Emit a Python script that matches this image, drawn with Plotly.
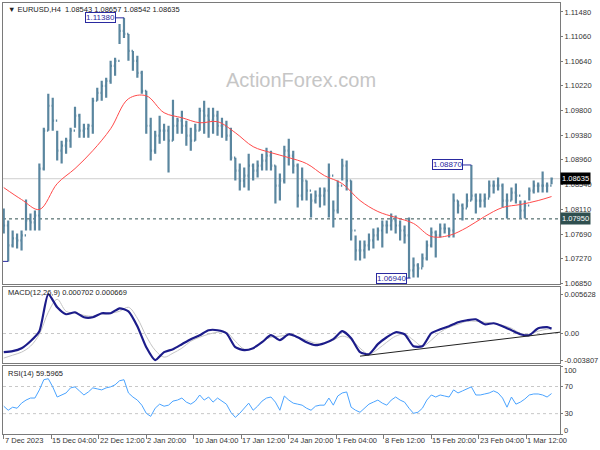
import plotly.graph_objects as go

# ---------------- data ----------------
H4_PER_BAR = 3  # each plotted bar covers 3 H4 bars

highs = [1.08127, 1.07923, 1.07752, 1.07701, 1.07752, 1.08280, 1.08042, 1.08093, 1.08893, 1.09505,
         1.10084, 1.10016, 1.09454, 1.09284, 1.09335, 1.09505, 1.09863, 1.09744, 1.09574, 1.09574,
         1.10016, 1.10186, 1.10305, 1.10356, 1.10646, 1.10697, 1.11276, 1.11380, 1.11105, 1.10816,
         1.10731, 1.10476, 1.10135, 1.09676, 1.09454, 1.09710, 1.09574, 1.09539, 1.09982, 1.09676,
         1.09795, 1.09625, 1.09505, 1.09574, 1.09846, 1.09965, 1.09846, 1.09846, 1.09795, 1.09676,
         1.09625, 1.09505, 1.08995, 1.08893, 1.08825, 1.09063, 1.08893, 1.08944, 1.09063, 1.09165,
         1.09114, 1.08859, 1.08723, 1.09199, 1.09318, 1.09114, 1.08893, 1.08825, 1.08603, 1.08382,
         1.08433, 1.08484, 1.08484, 1.08893, 1.08263, 1.08603, 1.08978, 1.08944, 1.08603, 1.07667,
         1.07582, 1.07582, 1.07701, 1.07786, 1.07803, 1.07923, 1.07923, 1.08042, 1.08008, 1.07923,
         1.07837, 1.07974, 1.07293, 1.07191, 1.07361, 1.07582, 1.07803, 1.07752, 1.07872, 1.07872,
         1.07803, 1.08382, 1.08263, 1.08212, 1.08382, 1.08870, 1.08382, 1.08382, 1.08382, 1.08603,
         1.08603, 1.08654, 1.08552, 1.08382, 1.08484, 1.08552, 1.08263, 1.08263, 1.08484, 1.08603,
         1.08569, 1.08757, 1.08569, 1.08657]
lows = [1.07701, 1.07225, 1.07463, 1.07446, 1.07412, 1.07752, 1.07752, 1.07752, 1.07752, 1.08774,
        1.09454, 1.09454, 1.08944, 1.08893, 1.09063, 1.09165, 1.09505, 1.09335, 1.09335, 1.09335,
        1.09403, 1.09965, 1.09965, 1.10016, 1.10254, 1.10390, 1.10935, 1.11037, 1.10646, 1.10476,
        1.10356, 1.10084, 1.09403, 1.08944, 1.09063, 1.09233, 1.09284, 1.08740, 1.09284, 1.09403,
        1.09403, 1.09199, 1.09114, 1.09284, 1.09454, 1.09403, 1.09335, 1.09403, 1.09369, 1.09335,
        1.09284, 1.08944, 1.08603, 1.08433, 1.08484, 1.08433, 1.08603, 1.08654, 1.08774, 1.08774,
        1.08774, 1.08212, 1.08263, 1.08552, 1.08859, 1.08723, 1.08144, 1.08263, 1.08263, 1.07974,
        1.08212, 1.08144, 1.08178, 1.07974, 1.07803, 1.08042, 1.08603, 1.08433, 1.07582, 1.07242,
        1.07242, 1.07276, 1.07412, 1.07446, 1.07582, 1.07463, 1.07701, 1.07752, 1.07701, 1.07582,
        1.07531, 1.06940, 1.06952, 1.06952, 1.07123, 1.07242, 1.07463, 1.07293, 1.07633, 1.07701,
        1.07633, 1.07633, 1.08042, 1.07923, 1.08144, 1.08263, 1.08042, 1.08144, 1.08144, 1.08314,
        1.08382, 1.08433, 1.08144, 1.07957, 1.08263, 1.08212, 1.07957, 1.07957, 1.08263, 1.08382,
        1.08399, 1.08399, 1.08399, 1.08542]
closes = [1.07837, 1.07497, 1.07616, 1.07582, 1.07667, 1.07923, 1.07889, 1.08008, 1.08808, 1.09454,
          1.09880, 1.09625, 1.09114, 1.09199, 1.09284, 1.09454, 1.09710, 1.09454, 1.09488, 1.09539,
          1.09965, 1.10101, 1.10220, 1.10305, 1.10561, 1.10646, 1.11156, 1.11105, 1.10816, 1.10646,
          1.10442, 1.10135, 1.09539, 1.09114, 1.09369, 1.09454, 1.09454, 1.09284, 1.09539, 1.09625,
          1.09539, 1.09369, 1.09284, 1.09454, 1.09795, 1.09710, 1.09625, 1.09710, 1.09539, 1.09539,
          1.09369, 1.08995, 1.08774, 1.08603, 1.08688, 1.08859, 1.08774, 1.08859, 1.08944, 1.09029,
          1.08859, 1.08518, 1.08603, 1.09114, 1.09029, 1.08859, 1.08348, 1.08603, 1.08433, 1.08263,
          1.08348, 1.08348, 1.08433, 1.08688, 1.08093, 1.08518, 1.08859, 1.08603, 1.07752, 1.07412,
          1.07412, 1.07497, 1.07582, 1.07667, 1.07752, 1.07837, 1.07837, 1.07923, 1.07837, 1.07752,
          1.07667, 1.07072, 1.07157, 1.07106, 1.07276, 1.07497, 1.07718, 1.07667, 1.07786, 1.07786,
          1.07752, 1.08263, 1.08178, 1.08127, 1.08263, 1.08348, 1.08263, 1.08263, 1.08297, 1.08518,
          1.08518, 1.08518, 1.08263, 1.08263, 1.08399, 1.08348, 1.08093, 1.08178, 1.08433, 1.08518,
          1.08518, 1.08518, 1.08518, 1.08635]
first_open = 1.08093

ma_index = [0, 12, 24, 36, 48, 60, 72, 84, 96, 108, 120, 132, 144, 156, 168, 180, 192, 204,
            216, 228, 240, 252, 264, 276, 288, 300, 312, 324, 336, 348, 360, 369]
ma_values = [1.08484, 1.08280, 1.08110, 1.08552, 1.08808, 1.09114, 1.09488, 1.09999, 1.10050,
             1.09761, 1.09676, 1.09590, 1.09608, 1.09420, 1.09182, 1.09080, 1.08995, 1.08893,
             1.08688, 1.08552, 1.08263, 1.08076, 1.07974, 1.07872, 1.07650, 1.07667, 1.07803,
             1.07991, 1.08144, 1.08195, 1.08263, 1.08331]

macd_index = list(range(0, 367, 6)) + [369]
macd_main = [-0.00266, -0.00252, -0.00209, -0.00110, 0.00033, 0.00563, 0.00374, 0.00275, 0.00303,
             0.00232, 0.00232, 0.00289, 0.00289, 0.00360, 0.00317, 0.00104, -0.00195, -0.00380,
             -0.00266, -0.00223, -0.00152, -0.00081, -0.00024, 0.00047, 0.00047, 0.00004,
             -0.00195, -0.00238, -0.00209, -0.00124, -0.00024, -0.00095, -0.00010, -0.00053,
             -0.00124, -0.00166, -0.00138, -0.00081, 0.00033, -0.00067, -0.00266, -0.00295,
             -0.00152, -0.00053, 0.00018, -0.00010, -0.00181, -0.00181, 0.00004, 0.00061,
             0.00104, 0.00161, 0.00189, 0.00203, 0.00132, 0.00146, 0.00104, 0.00047, -0.00010,
             -0.00024, 0.00075, 0.00090, 0.000702]
macd_signal = [-0.00351, -0.00309, -0.00266, -0.00181, -0.00010, 0.00303, 0.00488, 0.00317,
               0.00289, 0.00260, 0.00246, 0.00275, 0.00289, 0.00317, 0.00374, 0.00218, -0.00038,
               -0.00238, -0.00337, -0.00280, -0.00209, -0.00110, -0.00053, -0.00010, 0.00018,
               0.00018, -0.00110, -0.00223, -0.00209, -0.00110, -0.00053, -0.00038, -0.00024,
               -0.00053, -0.00095, -0.00138, -0.00138, -0.00095, -0.00038, -0.00081, -0.00209,
               -0.00295, -0.00223, -0.00124, -0.00038, -0.00010, -0.00095, -0.00181, -0.00095,
               0.00018, 0.00090, 0.00132, 0.00175, 0.00175, 0.00161, 0.00146, 0.00118, 0.00075,
               0.00004, -0.00010, 0.00033, 0.00061, 0.000669]
trend_index = [240, 375]
trend_values = [-0.00323, 0.00020]

rsi_values = [41.0, 35.0, 39.5, 38.0, 45.5, 50.0, 53.0, 53.0, 65.0, 80.0,
              81.5, 69.5, 54.5, 57.5, 60.5, 68.0, 69.5, 63.5, 57.5, 62.0,
              68.0, 66.5, 65.0, 68.0, 69.5, 72.5, 78.5, 80.0, 60.5, 54.5,
              50.0, 42.5, 30.5, 26.0, 38.0, 44.0, 41.0, 42.5, 48.5, 50.0,
              53.0, 47.0, 44.0, 48.5, 57.5, 50.0, 54.5, 47.0, 53.0, 48.5,
              44.0, 32.0, 24.5, 30.5, 38.0, 45.5, 35.0, 41.0, 48.5, 53.0,
              54.5, 47.0, 35.0, 56.0, 50.0, 45.5, 44.0, 42.5, 38.0, 35.0,
              41.0, 42.5, 42.5, 53.0, 42.5, 56.0, 60.5, 62.0, 39.5, 35.0,
              32.0, 38.0, 44.0, 47.0, 50.0, 45.5, 42.5, 50.0, 54.5, 50.0,
              47.0, 38.0, 30.5, 32.0, 38.0, 50.0, 57.5, 54.5, 57.5, 56.0,
              54.5, 65.0, 60.5, 63.5, 66.5, 69.5, 57.5, 57.5, 59.0, 60.5,
              63.5, 60.5, 53.0, 39.5, 54.5, 44.0, 47.0, 51.5, 57.5, 59.0,
              59.0, 57.5, 54.5, 59.5965]

price_ticks = [1.11480, 1.11060, 1.10640, 1.10220, 1.09800, 1.09380, 1.08960,
               1.08540, 1.08110, 1.07690, 1.07270, 1.06850]
macd_ticks = [0.005628, 0.0, -0.003807]
macd_tick_text = ["0.005628", "0.00", "-0.003807"]
rsi_levels = [30, 70]
time_label_index = [0, 32, 64, 96, 128, 160, 192, 224, 256, 288, 320, 352]
time_labels = ["7 Dec 2023", "15 Dec 04:00", "22 Dec 12:00", "2 Jan 20:00", "10 Jan 04:00",
               "17 Jan 12:00", "24 Jan 20:00", "1 Feb 04:00", "8 Feb 12:00", "15 Feb 20:00",
               "23 Feb 04:00", "1 Mar 12:00"]
support_level = 1.07950
marker_index = [81, 315, 274]
marker_price = [1.11380, 1.08870, 1.06940]
marker_text = ["1.11380", "1.08870", "1.06940"]
header = "\u25BC EURUSD,H4  1.08543 1.08657 1.08542 1.08635"
macd_title = "MACD(12,26,9) 0.000702 0.000669"
rsi_title = "RSI(14) 59.5965"

# ---------------- figure ----------------
bar_x = [k * H4_PER_BAR for k in range(len(highs))]
opens = [first_open] + closes[:-1]

FONT = "Liberation Sans, Arial, sans-serif"
BAR = "#5a869f"
BORDER = "#7a7a7a"
TXT = "#333333"
FS = 7.5

fig = go.Figure()
fig.add_trace(go.Ohlc(x=bar_x, open=opens, high=highs, low=lows, close=closes,
                      increasing=dict(line=dict(color=BAR, width=2.2)),
                      decreasing=dict(line=dict(color=BAR, width=2.2)),
                      tickwidth=0.3, xaxis="x", yaxis="y", hoverinfo="skip"))
fig.add_trace(go.Scatter(x=ma_index, y=ma_values, mode="lines",
                         line=dict(color="#ff4a4a", width=1, shape="spline"),
                         xaxis="x", yaxis="y", hoverinfo="skip"))
fig.add_trace(go.Scatter(x=macd_index, y=macd_signal, mode="lines",
                         line=dict(color="#c4c4c4", width=1, shape="spline"),
                         xaxis="x2", yaxis="y2", hoverinfo="skip"))
fig.add_trace(go.Scatter(x=macd_index, y=macd_main, mode="lines",
                         line=dict(color="#1c1c8a", width=2.2, shape="spline", smoothing=0.6),
                         xaxis="x2", yaxis="y2", hoverinfo="skip"))
fig.add_trace(go.Scatter(x=trend_index, y=trend_values, mode="lines",
                         line=dict(color="#222222", width=1),
                         xaxis="x2", yaxis="y2", hoverinfo="skip"))
fig.add_trace(go.Scatter(x=bar_x, y=rsi_values, mode="lines",
                         line=dict(color="#4aa3ff", width=1),
                         xaxis="x3", yaxis="y3", hoverinfo="skip"))

xr = [-0.5, 374.7]
xcommon = dict(range=xr, showline=True, linecolor=BORDER, linewidth=1, mirror=True,
               showgrid=False, zeroline=False, showticklabels=False)
ycommon = dict(side="right", showline=True, linecolor=BORDER, linewidth=1, mirror=True,
               showgrid=False, zeroline=False, ticks="outside", ticklen=2, tickcolor=BORDER,
               tickfont=dict(family=FONT, size=FS, color=TXT))

fig.update_layout(
    width=600, height=450,
    margin=dict(l=2, r=34, t=2, b=16),
    paper_bgcolor="white", plot_bgcolor="white",
    showlegend=False,
    xaxis=dict(domain=[0, 1], anchor="y", rangeslider=dict(visible=False), ticks="", **xcommon),
    xaxis2=dict(domain=[0, 1], anchor="y2", matches="x", ticks="", **xcommon),
    xaxis3=dict(domain=[0, 1], anchor="y3", matches="x", ticks="outside", ticklen=4,
                tickcolor=BORDER, tickvals=time_label_index, **xcommon),
    yaxis=dict(domain=[0.3472, 1.0], range=[1.06833, 1.11633], tickvals=price_ticks,
               ticktext=["%.5f" % v for v in price_ticks], **ycommon),
    yaxis2=dict(domain=[0.1644, 0.3403], range=[-0.004227, 0.00659], tickvals=macd_ticks,
                ticktext=macd_tick_text, **ycommon),
    yaxis3=dict(domain=[0.0, 0.1574], range=[0, 100], tickvals=[0] + rsi_levels + [100],
                ticktext=[""] + [str(v) for v in rsi_levels] + [""], **ycommon),
)

shapes = []
shapes.append(dict(type="line", xref="paper", x0=0, x1=1, yref="y", y0=closes[-1], y1=closes[-1],
                   line=dict(color="#cfcfcf", width=1), layer="below"))
shapes.append(dict(type="line", xref="paper", x0=0, x1=1, yref="y", y0=support_level, y1=support_level,
                   line=dict(color="#2f4f4f", width=1, dash="3px,3px"), layer="below"))
shapes.append(dict(type="line", xref="paper", x0=0, x1=1, yref="y2", y0=0, y1=0,
                   line=dict(color="#c8c8c8", width=1, dash="3px,3px"), layer="below"))
for lv in rsi_levels:
    shapes.append(dict(type="line", xref="paper", x0=0, x1=1, yref="y3", y0=lv, y1=lv,
                       line=dict(color="#c8c8c8", width=1, dash="3px,3px"), layer="below"))
shapes.append(dict(type="line", xref="x", x0=xr[0], x1=bar_x[1], yref="y", y0=lows[1], y1=lows[1],
                   line=dict(color="#2a2aa0", width=1)))
fig.update_layout(shapes=shapes)

ann = []
ann.append(dict(xref="paper", x=1, xanchor="left", xshift=0, yref="y", y=closes[-1],
                text="%.5f" % closes[-1], showarrow=False, bgcolor="black", borderpad=1,
                font=dict(family=FONT, size=FS, color="white")))
ann.append(dict(xref="paper", x=1, xanchor="left", xshift=0, yref="y", y=support_level,
                text="%.5f" % support_level, showarrow=False, bgcolor="#2f4f4f", borderpad=1,
                font=dict(family=FONT, size=FS, color="white")))
offsets = [-23, -24, -19]
for idx, pr, tx, off in zip(marker_index, marker_price, marker_text, offsets):
    ann.append(dict(xref="x", x=idx, yref="y", y=pr, text=tx, showarrow=True, arrowhead=0,
                    arrowwidth=1, arrowcolor="#2a2aa0", ax=off, ay=0, standoff=0,
                    bordercolor="#2a2aa0", borderwidth=1, borderpad=0, bgcolor="white",
                    font=dict(family=FONT, size=8, color="#2a2aa0")))
for lv, sh in ((100, -4), (0, 4)):
    ann.append(dict(xref="paper", x=1, xanchor="left", xshift=2, yref="y3", y=lv, yshift=sh,
                    text=str(lv), showarrow=False, font=dict(family=FONT, size=FS, color=TXT)))
ann.append(dict(xref="paper", x=0.005, xanchor="left", yref="paper", y=0.986, yanchor="middle",
                text=header, showarrow=False, font=dict(family=FONT, size=7.5, color="#222")))
ann.append(dict(xref="paper", x=0.005, xanchor="left", yref="paper", y=0.3287, yanchor="middle",
                text=macd_title, showarrow=False, font=dict(family=FONT, size=7.5, color="#222")))
ann.append(dict(xref="paper", x=0.005, xanchor="left", yref="paper", y=0.1412, yanchor="middle",
                text=rsi_title, showarrow=False, font=dict(family=FONT, size=7.5, color="#222")))
ann.append(dict(xref="paper", x=0.6726, yref="paper", y=0.852, text="ActionForex.com",
                showarrow=False, font=dict(family=FONT, size=20, color="#c6c6c6")))
for idx, lab in zip(time_label_index, time_labels):
    ann.append(dict(xref="x3", x=idx, xanchor="left", xshift=-1, yref="paper", y=0,
                    yanchor="top", yshift=0, text=lab, showarrow=False,
                    font=dict(family=FONT, size=FS, color=TXT)))
fig.update_layout(annotations=ann)

fig.write_html("out.html", config={"displayModeBar": False},
               post_script="document.body.style.margin='0px';")
